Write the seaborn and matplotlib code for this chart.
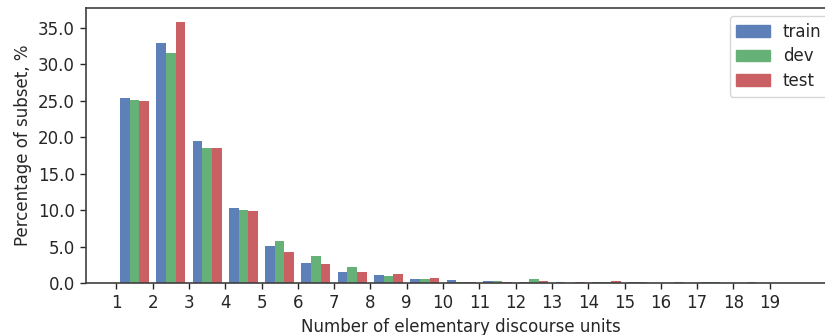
import matplotlib
matplotlib.use("Agg")
import matplotlib.pyplot as plt
import matplotlib.patches as mpatches
import numpy as np
import pandas as pd
import seaborn as sns

# ---- data ----
categories = list(range(1, 20))
train = [25.3, 32.85, 19.5, 10.3, 5.1, 2.8, 1.55, 1.15, 0.6, 0.45,
         0.3, 0.08, 0.08, 0.08, 0.08, 0.0, 0.08, 0.03, 0.05]
dev = [25.15, 31.6, 18.55, 10.05, 5.8, 3.75, 2.25, 1.0, 0.6, 0.08,
       0.3, 0.6, 0.05, 0.08, 0.08, 0.08, 0.08, 0.08, 0.0]
test = [25.0, 35.85, 18.55, 9.9, 4.3, 2.65, 1.5, 1.3, 0.75, 0.08,
        0.1, 0.3, 0.1, 0.3, 0.0, 0.0, 0.0, 0.0, 0.0]
subsets = ["train", "dev", "test"]
xticks = list(range(1, 20))
yticks = [0, 5, 10, 15, 20, 25, 30, 35]

sns.set_style("ticks")
plt.rcParams["font.family"] = ["DejaVu Sans"]

rows = []
for name, vals in zip(subsets, [train, dev, test]):
    for c, v in zip(categories, vals):
        rows.append({"bin": c + 0.5, "pct": v, "subset": name})
df = pd.DataFrame(rows)

deep = sns.color_palette("deep", 4)
base = [deep[0], deep[2], deep[3]]
alpha = 0.9
colors = [tuple(alpha * np.array(c) + (1 - alpha)) for c in base]

fig = plt.figure(figsize=(8.25, 3.35), dpi=100)
ax = fig.add_axes([86 / 825, 52 / 335, 750.5 / 825, 275.3 / 335])

sns.barplot(data=df, x="bin", y="pct", hue="subset", hue_order=subsets,
            palette=colors, saturation=1, native_scale=True, gap=0,
            width=0.8, legend=False, ax=ax, linewidth=0)

fs = 12
ax.set_xlim(0.165, 20.84)
ax.set_ylim(0, 37.75)
ax.set_xticks(xticks)
ax.set_xticklabels([str(t) for t in xticks], fontsize=fs)
ax.set_yticks(yticks)
ax.set_yticklabels([f"{t:.1f}" for t in yticks], fontsize=fs)
ax.set_xlabel("Number of elementary discourse units", fontsize=fs)
ax.set_ylabel("Percentage of subset, %", fontsize=fs)
ax.tick_params(axis="both", length=4.5, width=1, color="0.15")
for name, s in ax.spines.items():
    s.set_visible(name != "right")
    s.set_linewidth(1.2)
    s.set_color("0.25")

handles = [mpatches.Patch(color=c, label=n) for c, n in zip(colors, subsets)]
ax.legend(handles=handles, loc="upper right", fontsize=fs, frameon=True,
          fancybox=True, framealpha=0.8, edgecolor="0.8", labelspacing=0.4)

fig.savefig("out.png", dpi=100)
